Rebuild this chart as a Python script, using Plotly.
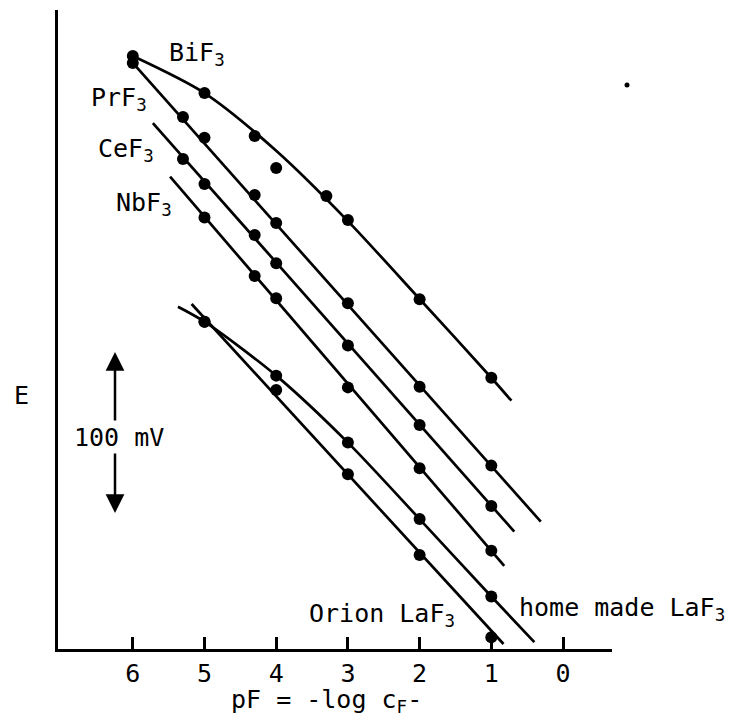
import plotly.graph_objects as go

# ---------------- data (pF, E in mV relative) ----------------
pf_bif3 = [6, 5, 4.3, 4, 3.3, 3, 2, 1]
e_bif3 = [368.3, 345.3, 318.6, 298.8, 281.4, 266.5, 217.2, 168.5]
fit_pf_bif3 = [6, 5, 4, 3, 2, 1, 0.72]
fit_e_bif3 = [368.3, 345.3, 309.5, 265.8, 217.4, 168.5, 154.2]

pf_prf3 = [6, 5.3, 5, 4.3, 4, 3, 2, 1]
e_prf3 = [364.0, 330.4, 317.6, 282.0, 264.6, 214.7, 162.9, 113.9]
fit_pf_prf3 = [6, 0.31]
fit_e_prf3 = [364.0, 79.1]

pf_cef3 = [5.3, 5, 4.3, 4, 3, 2, 1]
e_cef3 = [304.3, 288.8, 257.1, 239.6, 188.5, 139.1, 88.8]
fit_pf_cef3 = [5.72, 0.68]
fit_e_cef3 = [326.7, 72.9]

pf_nbf3 = [5, 4.3, 4, 3, 2, 1]
e_nbf3 = [268.0, 231.7, 217.8, 162.5, 112.2, 61.1]
fit_pf_nbf3 = [5.48, 0.82]
fit_e_nbf3 = [293.4, 51.7]

pf_home = [5, 4, 3, 2, 1]
e_home = [203.3, 169.8, 128.2, 80.7, 32.6]
fit_pf_home = [5.37, 5, 4, 3, 2, 1, 0.40]
fit_e_home = [212.6, 203.3, 169.8, 128.2, 80.7, 32.6, 4.3]

pf_orion = [5, 4, 3, 2, 1]
e_orion = [203.3, 160.9, 108.6, 58.4, 7.3]
fit_pf_orion = [5.18, 0.83]
fit_e_orion = [214.3, 3.1]

x_ticks = [6, 5, 4, 3, 2, 1, 0]

series = [
    (pf_bif3, e_bif3, fit_pf_bif3, fit_e_bif3, "spline"),
    (pf_prf3, e_prf3, fit_pf_prf3, fit_e_prf3, "linear"),
    (pf_cef3, e_cef3, fit_pf_cef3, fit_e_cef3, "linear"),
    (pf_nbf3, e_nbf3, fit_pf_nbf3, fit_e_nbf3, "linear"),
    (pf_home, e_home, fit_pf_home, fit_e_home, "spline"),
    (pf_orion, e_orion, fit_pf_orion, fit_e_orion, "linear"),
]

FONT = "DejaVu Sans Mono"
FS = 25
W, H = 743, 720
L, R, T, B = 58, 131, 10, 71
PW, PH = W - L - R, H - T - B


def px(x):
    return (x - L) / PW


def py(y):
    return (H - B - y) / PH


fig = go.Figure()
for pf, e, fpf, fe, shape in series:
    fig.add_trace(go.Scatter(x=fpf, y=fe, mode="lines",
                             line=dict(color="black", width=2.7, shape=shape, smoothing=0.8),
                             showlegend=False, hoverinfo="skip"))
    fig.add_trace(go.Scatter(x=pf, y=e, mode="markers",
                             marker=dict(color="black", size=12),
                             showlegend=False))

labels = [
    ("BiF<sub>3</sub>", 167, 54, "left"),
    ("PrF<sub>3</sub>", 89, 99, "left"),
    ("CeF<sub>3</sub>", 96, 150, "left"),
    ("NbF<sub>3</sub>", 114, 204, "left"),
    ("Orion LaF<sub>3</sub>", 307, 615, "left"),
    ("home made LaF<sub>3</sub>", 517, 609, "left"),
    ("E", 21, 395, "center"),
    ("100 mV", 72, 437, "left"),
    ("pF = -log c<sub>F</sub>-", 326, 701, "center"),
]
for text, x, y, xa in labels:
    fig.add_annotation(x=px(x), y=py(y), xref="paper", yref="paper", text=text,
                       showarrow=False, xanchor=xa, yanchor="middle",
                       font=dict(family=FONT, size=FS, color="black"))

# 100 mV scale arrows
for head, tail in [(352, 422), (513, 452)]:
    fig.add_annotation(x=px(115), y=py(head), xref="paper", yref="paper", text="",
                       showarrow=True, ax=0, ay=tail - head, axref="pixel", ayref="pixel",
                       arrowhead=2, arrowsize=1.5, arrowwidth=2.5, arrowcolor="black",
                       standoff=0)

# stray speck on the scan
fig.add_shape(type="circle", xref="paper", yref="paper",
              x0=px(624.5), x1=px(629.5), y0=py(87.5), y1=py(82.5),
              fillcolor="black", line=dict(width=0))

fig.update_layout(
    width=W, height=H,
    margin=dict(l=L, r=R, t=T, b=B),
    paper_bgcolor="white", plot_bgcolor="white",
    font=dict(family=FONT, color="black"),
    xaxis=dict(range=[7.043, -0.683], tickvals=x_ticks, ticktext=[str(v) for v in x_ticks],
               ticks="inside", ticklen=12, tickwidth=2.5, tickcolor="black",
               showline=True, linecolor="black", linewidth=2.8,
               showgrid=False, zeroline=False,
               tickfont=dict(family=FONT, size=FS, color="black")),
    yaxis=dict(range=[0, 396.9], showticklabels=False, ticks="",
               showline=True, linecolor="black", linewidth=2.8,
               showgrid=False, zeroline=False),
)

fig.write_html("out.html")
